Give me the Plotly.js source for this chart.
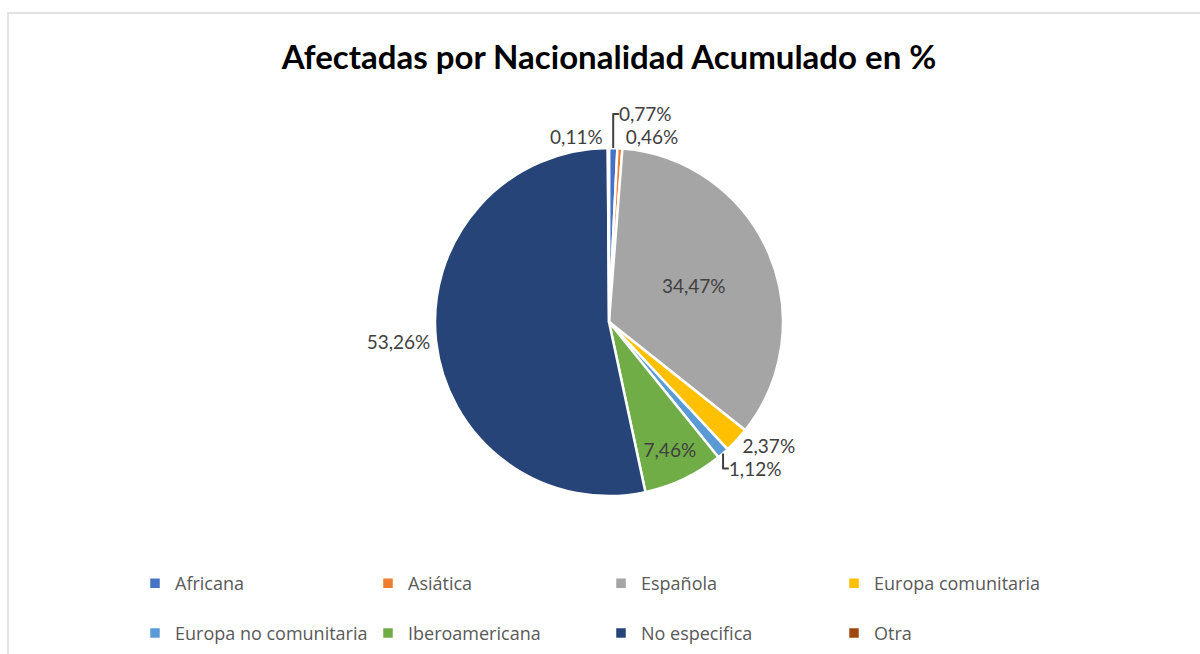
<!DOCTYPE html>
<html>
<head>
<meta charset="utf-8">
<script src="https://cdn.plot.ly/plotly-3.0.1.min.js"></script>
<style>
  html, body { margin: 0; padding: 0; background: #ffffff; }
  #chart { width: 1200px; height: 654px; }
</style>
</head>
<body>
<div id="chart"></div>
<script>
const categories = ["Africana", "Asiática", "Española", "Europa comunitaria", "Europa no comunitaria", "Iberoamericana", "No especifica", "Otra"];
const percentValues = [0.77, 0.46, 34.47, 2.37, 1.12, 7.46, 53.26, 0.11];
const sliceColors = ["#4472C4", "#ED7D31", "#A5A5A5", "#FFC000", "#5B9BD5", "#70AD47", "#264478", "#9E480E"];
const labelPositions = ["outside", "outside", "inside", "outside", "outside", "inside", "outside", "outside"];

const W = 1200, H = 654;
const ML = 50, MR = 50, PW = W - ML - MR;
const px = v => (v - ML) / PW;      // pixel x -> paper fraction
const py = v => 1 - v / H;          // pixel y -> paper fraction
const cx = 609, cy = 322, r = 174;
const FONT = "Lato, 'Liberation Sans', sans-serif";
const LFONT = "'Open Sans', Lato, sans-serif";

const trace = {
  type: "pie",
  labels: categories.map(c => c + "<br> "),
  values: percentValues,
  sort: false,
  direction: "clockwise",
  rotation: 0,
  marker: { colors: sliceColors, line: { color: "#ffffff", width: 2.5 } },
  texttemplate: "%{value:.2f}%",
  textposition: labelPositions,
  insidetextorientation: "horizontal",
  textfont: { family: FONT, size: 19, color: "#404040" },
  insidetextfont: { family: FONT, size: 19, color: "#404040" },
  outsidetextfont: { family: FONT, size: 19, color: "#404040" },
  hoverinfo: "label+value",
  automargin: false,
  domain: { x: [px(cx - 2 * r), px(cx + 2 * r)], y: [py(cy + r), py(cy - r)] }
};

const layout = {
  width: W, height: H,
  margin: { l: ML, r: MR, t: 0, b: 0, autoexpand: false },
  paper_bgcolor: "#ffffff",
  separators: ",.",
  title: {
    text: "<b>Afectadas por Nacionalidad Acumulado en %</b>",
    font: { family: FONT, size: 33, color: "#000000" },
    xref: "container", x: 609 / W, xanchor: "center",
    yref: "container", y: 1 - 57 / H, yanchor: "middle"
  },
  showlegend: true,
  legend: {
    orientation: "h",
    x: px(135), xanchor: "left",
    y: py(565), yanchor: "top",
    entrywidth: 188, entrywidthmode: "pixels",
    valign: "top",
    traceorder: "normal",
    font: { family: LFONT, size: 18, color: "#595959" }
  },
  shapes: [{
    type: "rect", xref: "paper", yref: "paper",
    x0: px(8), x1: px(1210), y0: -0.02, y1: py(13),
    line: { color: "#d9d9d9", width: 1.5 }, fillcolor: "rgba(0,0,0,0)", layer: "below"
  }]
};

Plotly.newPlot("chart", [trace], layout, { displayModeBar: false, staticPlot: true });
</script>
</body>
</html>
